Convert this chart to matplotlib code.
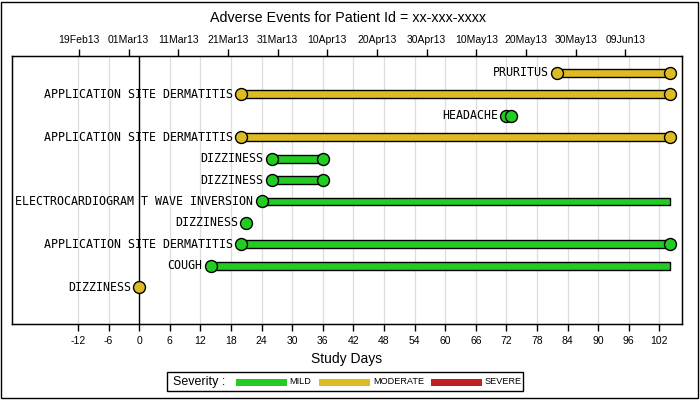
import matplotlib
matplotlib.use("Agg")
import matplotlib.pyplot as plt
import matplotlib.dates as mdates
from matplotlib.patches import Rectangle
import datetime as dt

# ---------------- data ----------------
aeterm = ["PRURITUS", "APPLICATION SITE DERMATITIS", "HEADACHE",
          "APPLICATION SITE DERMATITIS", "DIZZINESS", "DIZZINESS",
          "ELECTROCARDIOGRAM T WAVE INVERSION", "DIZZINESS",
          "APPLICATION SITE DERMATITIS", "COUGH", "DIZZINESS"]
severity = ["MODERATE", "MODERATE", "MILD", "MODERATE", "MILD", "MILD",
            "MILD", "MILD", "MILD", "MILD", "MODERATE"]
start_day = [82, 20, 72, 20, 26, 26, 24, 21, 20, 14, 0]
end_day = [104, 104, 73, 104, 36, 36, 104, 21, 104, 104, 0]
end_marker = [True, True, True, True, True, True, False, True, True, False, True]

day_ticks = list(range(-12, 103, 6))
sev_levels = ["MILD", "MODERATE", "SEVERE"]
sev_colors = {"MILD": "#22CC22", "MODERATE": "#DDBB22", "SEVERE": "#C02020"}
ref_date = dt.date(2013, 3, 1)
date_ticks = [dt.date(2013, 2, 19) + dt.timedelta(days=10 * k) for k in range(12)]

# ---------------- figure ----------------
plt.rcParams['font.family'] = ['Liberation Sans', 'DejaVu Sans']
fig = plt.figure(figsize=(7, 4), dpi=100)
fig.add_artist(Rectangle((0.6 / 700, 2.5 / 400), 697 / 700, 396 / 400,
                         transform=fig.transFigure, fill=False, lw=1, ec='black'))

ax = fig.add_axes([11.7 / 700, 1 - 324 / 400, (682.3 - 11.7) / 700, (324 - 56) / 400])
n = len(aeterm)
rows = list(range(n))

ax.set_xlim(-25.0, 106.5)
ax.set_ylim(11.71, -0.78)

for d in day_ticks:
    ax.axvline(d, color='#DDDDDD', lw=0.9, zorder=0)
ax.axvline(0, color='black', lw=1, zorder=1)

for i in rows:
    c = sev_colors[severity[i]]
    if end_day[i] > start_day[i]:
        ax.barh(i, end_day[i] - start_day[i], left=start_day[i], height=0.37,
                color=c, edgecolor='black', lw=1, zorder=2)
    ax.plot([start_day[i]], [i], 'o', ms=8.6, mfc=c, mec='black', mew=1, zorder=3)
    if end_marker[i] and end_day[i] != start_day[i]:
        ax.plot([end_day[i]], [i], 'o', ms=8.6, mfc=c, mec='black', mew=1, zorder=3)
    ax.annotate(aeterm[i], (start_day[i], i), xytext=(-6.0, 0), textcoords='offset points',
                ha='right', va='center', fontsize=8.4, family='DejaVu Sans Mono', zorder=4)

ax.set_yticks([])
ax.set_xticks(day_ticks)
ax.set_xticklabels([str(d) for d in day_ticks], fontsize=7.5)
ax.tick_params(axis='x', length=5, width=1, pad=4)
ax.set_xlabel("Study Days", fontsize=10, labelpad=4)
for s in ax.spines.values():
    s.set_linewidth(1)

# top date axis
ax2 = ax.twiny()
d0 = mdates.date2num(ref_date)
ax2.set_xlim(d0 - 23.56, d0 + 111.48)
ax2.set_xticks([mdates.date2num(d) for d in date_ticks])
ax2.set_xticklabels([d.strftime("%d%b%y") for d in date_ticks], fontsize=7.5)
ax2.tick_params(axis='x', length=5, width=1, pad=3)

fig.text(348 / 700, 1 - 18 / 400, "Adverse Events for Patient Id = xx-xxx-xxxx",
         ha='center', va='center', fontsize=10.3)

# legend (manual, figure coordinates)
W, H = 700, 400
fig.add_artist(Rectangle((167.3 / W, 1 - 391 / H), (523.3 - 167.3) / W, (391 - 372.3) / H,
                         transform=fig.transFigure, fill=False, lw=1, ec='black'))
fig.text(172.7 / W, 1 - 382 / H, "Severity :", ha='left', va='center', fontsize=9)
patch_x = [236, 319.3, 431]
for px, lev in zip(patch_x, sev_levels):
    fig.add_artist(Rectangle((px / W, 1 - 385.7 / H), 50.5 / W, 6.7 / H,
                             transform=fig.transFigure, color=sev_colors[lev], lw=0))
    fig.text((px + 53.5) / W, 1 - 382 / H, lev, ha='left', va='center', fontsize=6.6)

fig.savefig("out.png", dpi=100)
